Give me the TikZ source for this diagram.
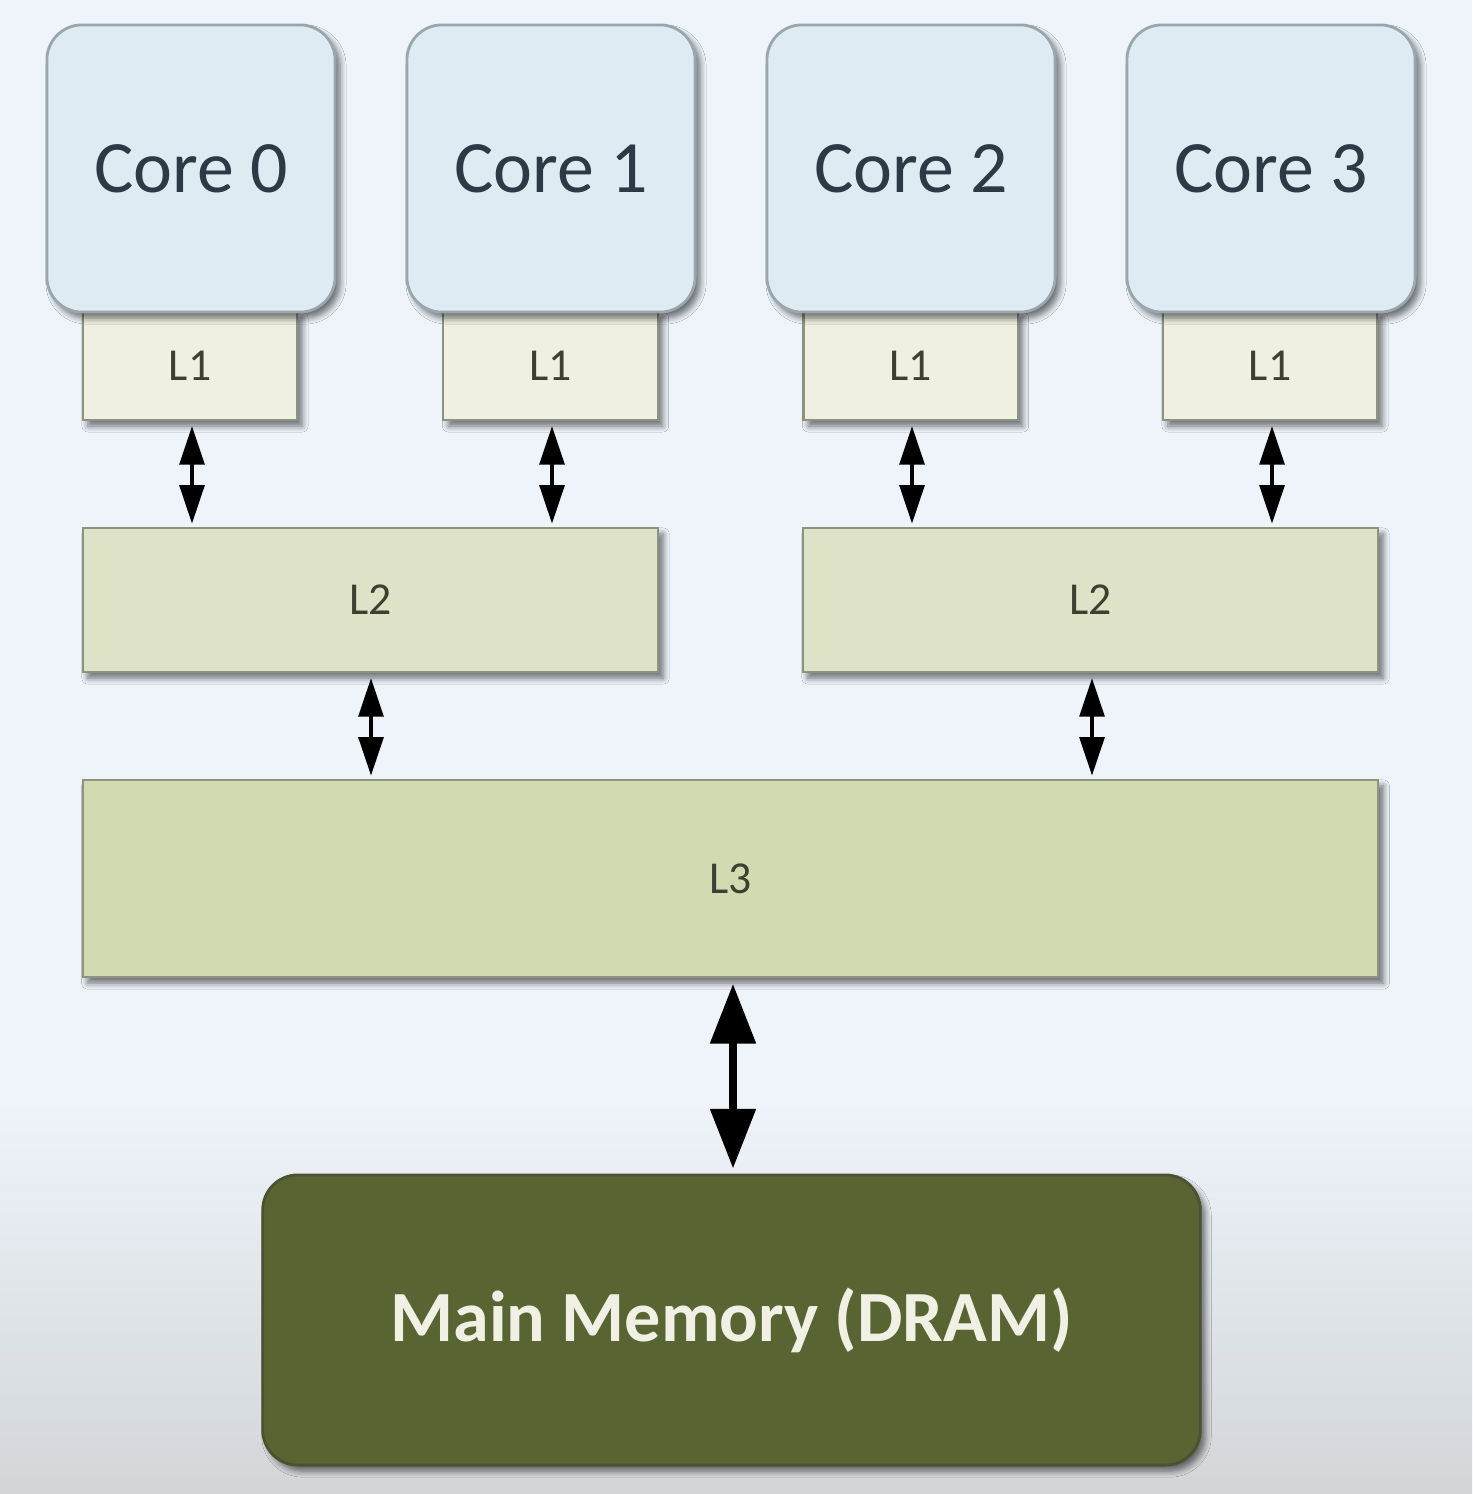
\documentclass[tikz,border=0pt]{standalone}
\usepackage{fontspec}
\setmainfont{Carlito}
\usetikzlibrary{arrows.meta,shadows.blur}
\definecolor{bgtop}{HTML}{EEF4FA}
\definecolor{bgbot}{HTML}{D2D6D9}
\definecolor{corefill}{HTML}{DEEBF2}
\definecolor{coreline}{HTML}{9AA6AE}
\definecolor{coretext}{HTML}{2C3A45}
\definecolor{lonefill}{HTML}{EFEFE2}
\definecolor{ltwofill}{HTML}{DEE3C7}
\definecolor{lthreefill}{HTML}{D1DAB0}
\definecolor{cacheline}{HTML}{8E9380}
\definecolor{cachetext}{HTML}{3D4030}
\definecolor{memfill}{HTML}{596433}
\definecolor{memline}{HTML}{4A5230}
\definecolor{memtext}{HTML}{F0F0E4}
\tikzset{
  x=0.01cm, y=-0.01cm,
  shad/.style={blur shadow={shadow xshift=0.05cm, shadow yshift=-0.06cm, shadow blur steps=6, shadow opacity=55, shadow blur radius=0.06cm}},
  corebox/.style={shad, draw=coreline, line width=0.8pt, fill=corefill, rounded corners=0.35cm,
     minimum width=2.88cm, minimum height=2.87cm, inner sep=0pt, text=coretext, font=\fontsize{21}{25}\selectfont},
  cachebox/.style={shad, draw=cacheline, line width=0.6pt, inner sep=0pt, text=cachetext, font=\fontsize{13}{16}\selectfont},
  lone/.style={cachebox, fill=lonefill, minimum width=2.14cm, minimum height=1.08cm},
  ltwo/.style={cachebox, fill=ltwofill, minimum width=5.75cm, minimum height=1.44cm},
  lthree/.style={cachebox, fill=lthreefill, minimum width=12.95cm, minimum height=1.97cm},
  membox/.style={shad, draw=memline, line width=0.8pt, fill=memfill, rounded corners=0.35cm,
     minimum width=9.37cm, minimum height=2.90cm, inner sep=0pt, text=memtext, font=\bfseries\fontsize{20.5}{24}\selectfont},
  link/.style={line width=1.2pt, {Triangle[width=7pt,length=11pt]}-{Triangle[width=7pt,length=11pt]}, shorten <=1.4pt, shorten >=0.9pt},
  biglink/.style={line width=2.4pt, {Triangle[width=12.5pt,length=17pt]}-{Triangle[width=12.5pt,length=17pt]}, shorten <=1.6pt, shorten >=1.4pt},
}
\begin{document}
\begin{tikzpicture}
\useasboundingbox (0,0) rectangle (1472,1494);
\fill[bgtop] (0,0) rectangle (1472,1100);
\shade[top color=bgtop, bottom color=bgbot] (0,1099) rectangle (1472,1494);

% L1 caches (drawn before cores so core edges overlap)
\node[lone] (l1a) at (190,366) {L1};
\node[lone] (l1b) at (550.5,366) {L1};
\node[lone] (l1c) at (910.5,366) {L1};
\node[lone] (l1d) at (1270,366) {L1};

\node[corebox] (c0) at (191,168.5) {Core 0};
\node[corebox] (c1) at (551,168.5) {Core 1};
\node[corebox] (c2) at (911,168.5) {Core 2};
\node[corebox] (c3) at (1271,168.5) {Core 3};

\node[ltwo] (l2a) at (370.5,600) {L2};
\node[ltwo] (l2b) at (1090.5,600) {L2};

\node[lthree] (l3) at (730.5,878.5) {L3};

\node[membox] (mem) at (731.5,1320) {Main Memory (DRAM)};

\coordinate (a0) at (192,0);
\coordinate (a1) at (552,0);
\coordinate (a2) at (912,0);
\coordinate (a3) at (1272,0);
\draw[link] (a0 |- l1a.south) -- (a0 |- l2a.north);
\draw[link] (a1 |- l1b.south) -- (a1 |- l2a.north);
\draw[link] (a2 |- l1c.south) -- (a2 |- l2b.north);
\draw[link] (a3 |- l1d.south) -- (a3 |- l2b.north);

\coordinate (b0) at (371,0);
\coordinate (b1) at (1092,0);
\draw[link] (b0 |- l2a.south) -- (b0 |- l3.north);
\draw[link] (b1 |- l2b.south) -- (b1 |- l3.north);

\coordinate (m0) at (733,0);
\draw[biglink] (m0 |- l3.south) -- (m0 |- mem.north);
\end{tikzpicture}
\end{document}
